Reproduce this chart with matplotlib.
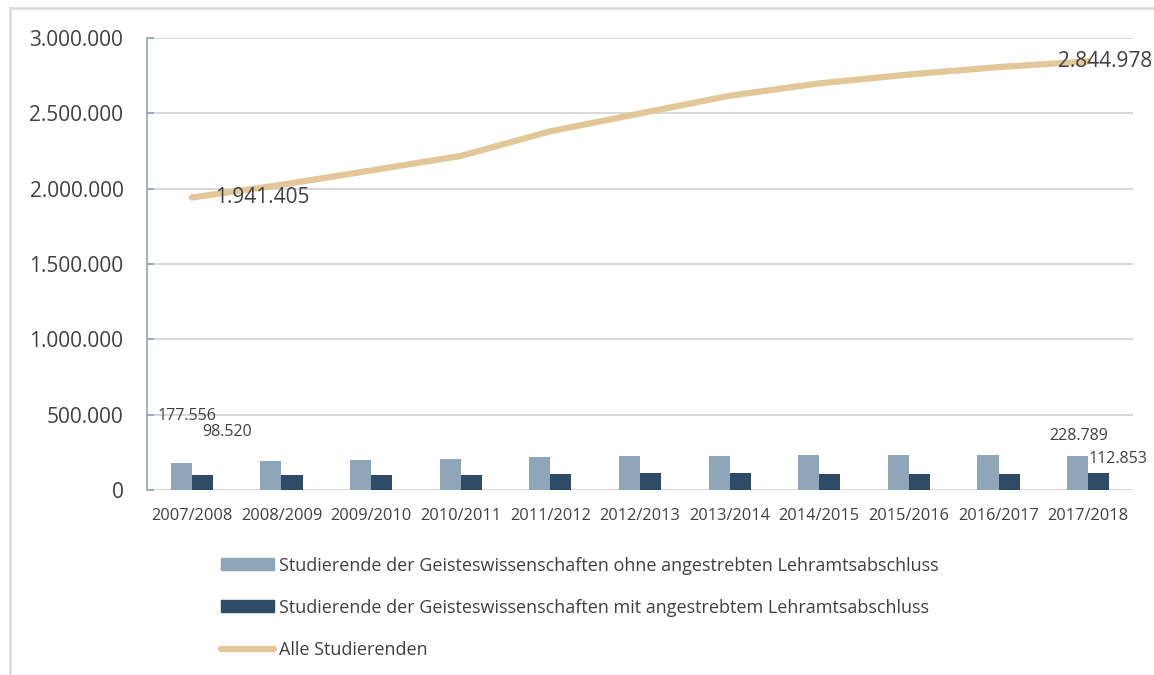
import numpy as np
import matplotlib.pyplot as plt
from matplotlib.lines import Line2D
from matplotlib.patches import Patch
from matplotlib.ticker import FuncFormatter

plt.rcParams['font.family'] = ['Open Sans', 'DejaVu Sans']

semester = ['2007/2008', '2008/2009', '2009/2010', '2010/2011', '2011/2012', '2012/2013',
            '2013/2014', '2014/2015', '2015/2016', '2016/2017', '2017/2018']
ohne_lehramt = [177556, 195000, 199000, 206000, 219000, 226000, 228000, 231000, 231000, 233000, 228789]
mit_lehramt = [98520, 98500, 100500, 102000, 105000, 110000, 110000, 109500, 106000, 108000, 112853]
alle = [1941405, 2025742, 2121190, 2217294, 2380974, 2499409, 2616881, 2698910, 2757799, 2807010, 2844978]

labels = ['Studierende der Geisteswissenschaften ohne angestrebten Lehramtsabschluss',
          'Studierende der Geisteswissenschaften mit angestrebtem Lehramtsabschluss',
          'Alle Studierenden']

c_light = '#8FA5BA'
c_dark = '#2E4A66'
c_line = '#E2C899'
c_grid = '#D9D9D9'
c_text = '#404040'


def de_fmt(v):
    return f'{int(round(v)):,}'.replace(',', '.')


fig = plt.figure(figsize=(11.54, 6.75), dpi=100)
ax = fig.add_axes([0.1274, 0.274, 0.8544, 0.6697])

x = np.arange(len(semester))
w = 0.235
ax.bar(x - w / 2, ohne_lehramt, w, color=c_light, zorder=2)
ax.bar(x + w / 2, mit_lehramt, w, color=c_dark, zorder=2)
ax.plot(x, alle, color=c_line, lw=4.5, solid_capstyle='round', zorder=3)

ax.set_xlim(-0.5, len(semester) - 0.5)
ax.set_ylim(0, 3000000)
ax.set_yticks(np.arange(0, 3000001, 500000))
ax.yaxis.set_major_formatter(FuncFormatter(lambda v, p: de_fmt(v)))
ax.set_xticks(x)
ax.set_xticklabels(semester)

ax.grid(axis='y', color=c_grid, lw=1.5, zorder=0)
for s in ['top', 'right', 'bottom']:
    ax.spines[s].set_visible(False)
ax.spines['left'].set_color('#8EA4BB')
ax.spines['left'].set_linewidth(1.2)
ax.axhline(0, color=c_grid, lw=1.8, zorder=1)

ax.tick_params(axis='y', direction='in', length=5, color='#8EA4BB', width=1.2,
               labelsize=15, labelcolor=c_text, pad=17)
ax.tick_params(axis='x', length=0, labelsize=11.8, labelcolor=c_text, pad=13)

# data labels
ax.annotate(de_fmt(alle[0]), (x[0], alle[0]), xytext=(17, 0), textcoords='offset points',
            ha='left', va='center', fontsize=15, color=c_text, zorder=4)
ax.annotate(de_fmt(alle[-1]), (x[-1], alle[-1]), xytext=(-22, 0), textcoords='offset points',
            ha='left', va='center', fontsize=15, color=c_text, zorder=4)
ax.annotate(de_fmt(ohne_lehramt[0]), (x[0] - w / 2, ohne_lehramt[0]), xytext=(4, 34),
            textcoords='offset points', ha='center', va='center', fontsize=11.5, color=c_text)
ax.annotate(de_fmt(mit_lehramt[0]), (x[0] + w / 2, mit_lehramt[0]), xytext=(18, 31),
            textcoords='offset points', ha='center', va='center', fontsize=11.5, color=c_text)
ax.annotate(de_fmt(ohne_lehramt[-1]), (x[-1] - w / 2, ohne_lehramt[-1]), xytext=(1, 14),
            textcoords='offset points', ha='center', va='center', fontsize=11.5, color=c_text)
ax.annotate(de_fmt(mit_lehramt[-1]), (x[-1] + w / 2, mit_lehramt[-1]), xytext=(14, 10),
            textcoords='offset points', ha='center', va='center', fontsize=11.5, color=c_text)

handles = [Patch(color=c_light), Patch(color=c_dark),
           Line2D([], [], color=c_line, lw=4.5, solid_capstyle='round')]
leg = fig.legend(handles, labels, loc='upper left', bbox_to_anchor=(0.185, 0.186),
                 frameon=False, fontsize=13, handlelength=2.95, handleheight=0.65,
                 handletextpad=0.28, labelspacing=1.33, borderaxespad=0)
for t in leg.get_texts():
    t.set_color(c_text)

# outer frame (left and top only)
fig.add_artist(Line2D([10 / 1154, 10 / 1154], [0, 1 - 8 / 675], color=c_grid, lw=1.8,
                      transform=fig.transFigure))
fig.add_artist(Line2D([10 / 1154, 1], [1 - 8 / 675, 1 - 8 / 675], color=c_grid, lw=1.8,
                      transform=fig.transFigure))

fig.savefig('out.png', dpi=100)
